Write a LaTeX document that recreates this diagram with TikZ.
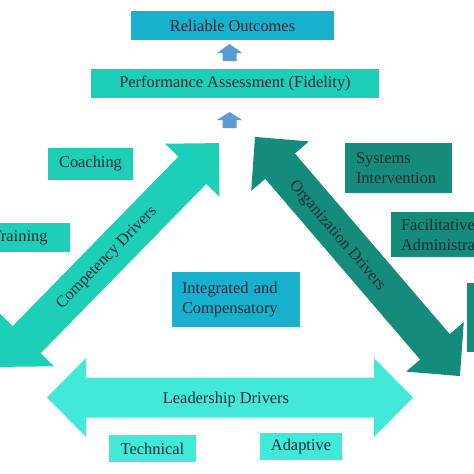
\documentclass[tikz,border=0pt]{standalone}
\usepackage{fontspec}
\setmainfont{Liberation Serif}
\definecolor{cyanbox}{HTML}{17B0CD}
\definecolor{tealbox}{HTML}{1DCFB7}
\definecolor{darkteal}{HTML}{158B7B}
\definecolor{lightteal}{HTML}{42E8D8}
\definecolor{bluearrow}{HTML}{5B9BD5}
\definecolor{textcol}{HTML}{1C2B3A}
\tikzset{
  box/.style={rectangle, inner ysep=0pt, text=textcol, font=\fontsize{16.4}{20}\selectfont},
  lbl/.style={text=textcol, inner sep=0pt, font=\fontsize{16.4}{20}\selectfont},
  upblock/.style={fill=bluearrow}
}
\begin{document}
\begin{tikzpicture}[x=1pt,y=-1pt]
\clip (0,0) rectangle (474,474);
\fill[white] (0,0) rectangle (474,474);

% boxes
\node[box, fill=cyanbox, minimum width=203, minimum height=29] (reliable) at (232.5,25.5) {Reliable Outcomes};
\node[box, fill=tealbox, minimum width=288, minimum height=29] (perf) at (235,83.5) {Performance Assessment (Fidelity)};
\node[box, fill=tealbox, minimum width=85, minimum height=32] (coach) at (90.5,164) {Coaching};
\node[box, fill=tealbox, minimum width=101, minimum height=29] (train) at (19.5,237.5) {Training};
\node[box, fill=cyanbox, text width=108, inner xsep=10, minimum height=55, align=left] (integ) at (236,299.5) {Integrated and\\Compensatory};
\node[box, fill=darkteal, text width=85, inner xsep=11, minimum height=50, align=left] (systems) at (398.5,168) {Systems\\Intervention};
\node[box, fill=darkteal, text width=99, inner xsep=10, minimum height=45, align=left] (facil) at (450.5,234.5) {Facilitative\\Administration};
\node[box, fill=darkteal, minimum width=73, minimum height=69] (rightbox) at (503.5,317.5) {};

% blue up arrows
\coordinate (b1) at (229.5,44);
\coordinate (b2) at (229.5,112);
\fill[upblock] (b1) -- ++(12.5,9) -- ++(-5.5,0) -- ++(0,8) -- ++(-14,0) -- ++(0,-8) -- ++(-5.5,0) -- cycle;
\fill[upblock] (b2) -- ++(12.5,8) -- ++(-5.5,0) -- ++(0,8) -- ++(-14,0) -- ++(0,-8) -- ++(-5.5,0) -- cycle;

% Competency Drivers arrow
\begin{scope}[shift={(109.5,255)}, rotate=45.65]
\fill[tealbox] (-156.5,0) -- (-118.5,38) -- (-118.5,19.5) -- (118.5,19.5) -- (118.5,38) -- (156.5,0)
  -- (118.5,-38) -- (118.5,-19.5) -- (-118.5,-19.5) -- (-118.5,-38) -- cycle;
\end{scope}
\node[lbl, rotate=45.65] (ctext) at (107,258) {Competency Drivers};

% Organization Drivers arrow
\begin{scope}[shift={(357.5,256.5)}, rotate=-49.4]
\fill[darkteal] (-157.5,0) -- (-119,38) -- (-119,19.5) -- (119,19.5) -- (119,38) -- (157.5,0)
  -- (119,-38) -- (119,-19.5) -- (-119,-19.5) -- (-119,-38) -- cycle;
\end{scope}
\node[lbl, rotate=-49.4] (otext) at (337,236) {Organization Drivers};

% Leadership Drivers arrow
\begin{scope}[shift={(230,397.5)}]
\fill[lightteal] (-183,0) -- (-144,39.5) -- (-144,20) -- (144,20) -- (144,39.5) -- (183,0)
  -- (144,-39.5) -- (144,-20) -- (-144,-20) -- (-144,-39.5) -- cycle;
\end{scope}
\node[lbl] (ltext) at (226,400) {Leadership Drivers};

\node[box, fill=lightteal, minimum width=87, minimum height=27] (tech) at (152.5,448.5) {Technical};
\node[box, fill=lightteal, minimum width=82, minimum height=27] (adapt) at (301,446.5) {Adaptive};
\end{tikzpicture}
\end{document}
